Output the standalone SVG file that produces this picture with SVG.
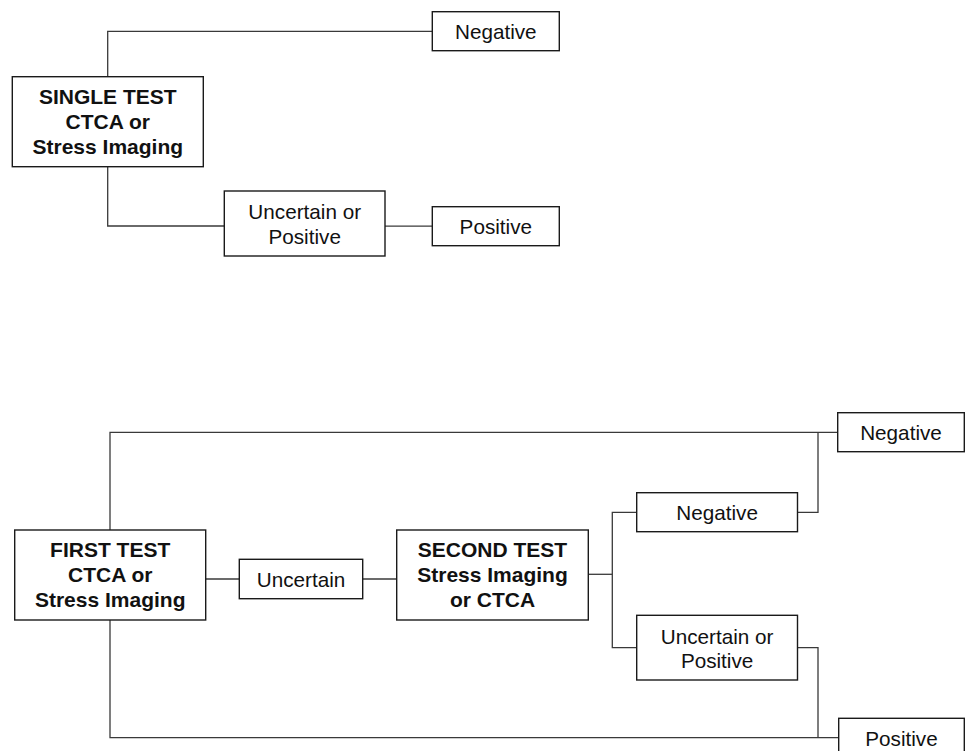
<svg xmlns="http://www.w3.org/2000/svg" width="965" height="751" viewBox="0 0 965 751">
<style>
.box{fill:#fff;stroke:#1a1a1a;stroke-width:1.4}
.ln{fill:none;stroke:#3a3a3a;stroke-width:1.3}
.t{font-family:"Liberation Sans",Arial,sans-serif;font-size:20.7px;fill:#111;text-anchor:middle}
.b{font-family:"Liberation Sans",Arial,sans-serif;font-size:21px;font-weight:bold;fill:#111;text-anchor:middle}
</style>
<rect width="965" height="751" fill="#fff"/>
<g id="connectors">
<path class="ln" d="M107.7,76.7 V31.3 H432.3"/>
<path class="ln" d="M107.7,166.7 V226 H224.3"/>
<path class="ln" d="M385,226.2 H432.3"/>
<path class="ln" d="M110,530 V432.3 H837.7"/>
<path class="ln" d="M110,620 V737.7 H838.7"/>
<path class="ln" d="M205.7,579 H239.3"/>
<path class="ln" d="M362.7,579 H396.7"/>
<path class="ln" d="M588.3,574.3 H612.3"/>
<path class="ln" d="M636.7,512.3 H612.3 V647.7 H636.7"/>
<path class="ln" d="M797.5,512.3 H818 V432.3"/>
<path class="ln" d="M797.5,647.7 H818 V737.7"/>
</g>
<g id="single-test">
<rect class="box" x="12.3" y="76.7" width="191" height="90"/>
<text class="b" x="107.8" y="104">SINGLE TEST</text>
<text class="b" x="107.8" y="129">CTCA or</text>
<text class="b" x="107.8" y="154">Stress Imaging</text>
</g>
<g id="neg-top">
<rect class="box" x="432.3" y="11.7" width="127" height="39"/>
<text class="t" x="495.8" y="38.5">Negative</text>
</g>
<g id="uncertain-pos-top">
<rect class="box" x="224.3" y="191" width="160.7" height="65"/>
<text class="t" x="304.7" y="219">Uncertain or</text>
<text class="t" x="304.7" y="244">Positive</text>
</g>
<g id="pos-top">
<rect class="box" x="432.3" y="206.7" width="127" height="39"/>
<text class="t" x="495.8" y="233.5">Positive</text>
</g>
<g id="first-test">
<rect class="box" x="14.7" y="530" width="191" height="90"/>
<text class="b" x="110.2" y="557">FIRST TEST</text>
<text class="b" x="110.2" y="582">CTCA or</text>
<text class="b" x="110.2" y="607">Stress Imaging</text>
</g>
<g id="uncertain">
<rect class="box" x="239.3" y="559.3" width="123.4" height="39.4"/>
<text class="t" x="301" y="587">Uncertain</text>
</g>
<g id="second-test">
<rect class="box" x="396.7" y="530" width="191.6" height="90"/>
<text class="b" x="492.5" y="557">SECOND TEST</text>
<text class="b" x="492.5" y="582">Stress Imaging</text>
<text class="b" x="492.5" y="607">or CTCA</text>
</g>
<g id="neg-mid">
<rect class="box" x="636.7" y="492.7" width="160.8" height="39"/>
<text class="t" x="717.1" y="520">Negative</text>
</g>
<g id="uncertain-pos-bottom">
<rect class="box" x="636.7" y="615.3" width="160.8" height="64.7"/>
<text class="t" x="717.1" y="643.5">Uncertain or</text>
<text class="t" x="717.1" y="668">Positive</text>
</g>
<g id="neg-right">
<rect class="box" x="837.7" y="412.7" width="126.6" height="39"/>
<text class="t" x="901" y="440">Negative</text>
</g>
<g id="pos-right">
<rect class="box" x="838.7" y="718.3" width="125.6" height="39"/>
<text class="t" x="901.5" y="745.5">Positive</text>
</g>
</svg>
